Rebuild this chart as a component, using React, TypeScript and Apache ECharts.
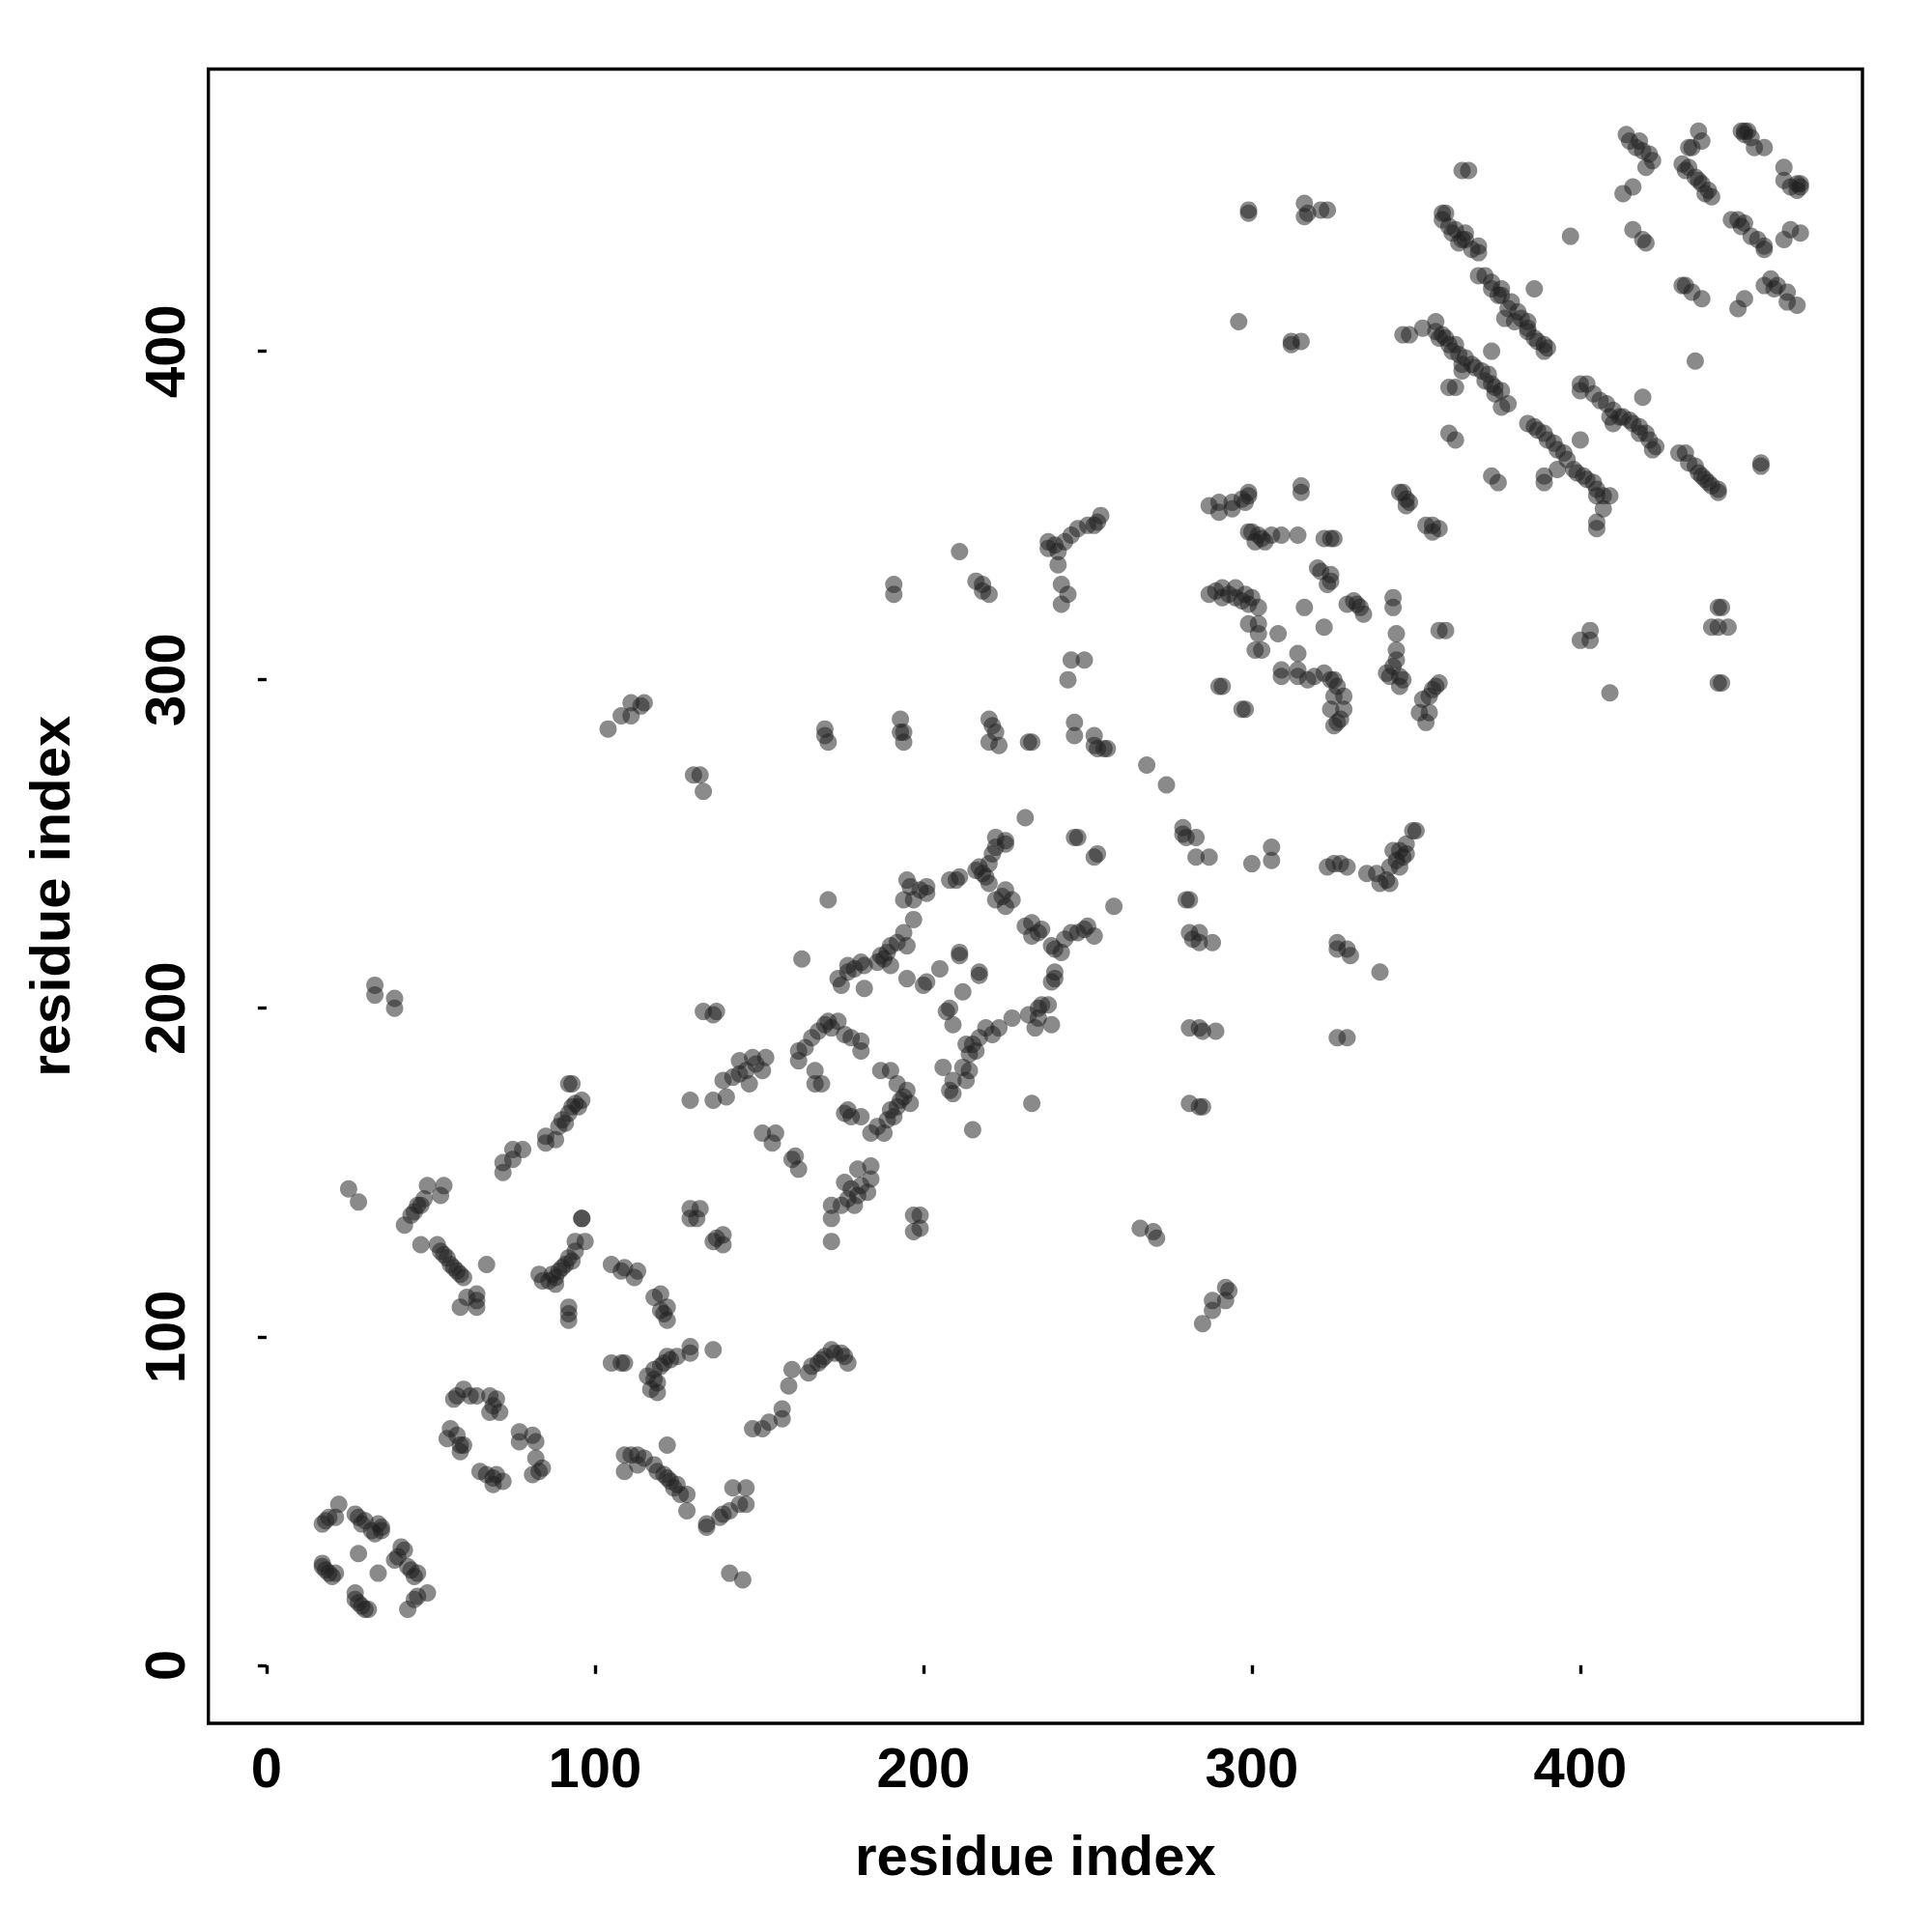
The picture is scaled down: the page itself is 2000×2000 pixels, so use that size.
import React, { useEffect, useRef } from "react";
import * as echarts from "echarts";

const tickValues = [0, 100, 200, 300, 400];
const axisTitle = "residue index";

const contactsA: number[][] = [
  [22,49],[19,45],[17,43],[18,44],[21,45],[27,46],[28,45],[30,44],[29,43],[34,43],[35,42],[35,41],[33,40],[32,41],[28,34],[34,28],[42,35],[41,36],[40,33],[39,32],[43,30],[44,29],[46,28],[45,27],[49,22],[46,21],[45,20],[43,17],[17,31],[17,30],[18,29],[19,28],[20,27],[21,28],[27,22],[27,20],[28,19],[29,18],[30,17],[31,17],
  [60,84],[58,82],[57,81],[62,82],[64,82],[68,82],[70,81],[71,77],[68,77],[69,79],[56,72],[55,69],[58,70],[59,67],[59,65],[60,67],[77,71],[77,68],[81,70],[82,68],[82,63],[84,60],[81,58],[83,59],[65,59],[67,58],[69,57],[72,56],[69,55],[70,58],
  [47,128],[52,128],[53,126],[54,125],[55,124],[56,122],[57,121],[58,120],[59,119],[60,118],[67,122],[64,113],[61,112],[64,109],[59,109],[64,111],[42,134],[45,138],[44,137],[46,140],[48,142],[49,146],[53,143],[54,146],[25,145],[28,141],[47,140],
];

const contactsB: number[][] = [
  [96,136],[97,129],[94,129],[94,126],[93,123],[91,122],[89,120],[88,118],[88,116],[87,119],[90,121],[92,124],[83,119],[84,117],[86,117],[92,109],[92,107],[92,105],
  [105,122],[109,121],[108,120],[113,120],[112,118],[120,113],[118,112],[122,109],[120,108],[122,105],[121,107],
  [136,96],[129,97],[129,95],[125,94],[122,94],[120,91],[118,90],[116,88],[119,86],[119,83],[117,84],[121,92],[123,93],[118,87],[105,92],[109,92],[108,92],
  [122,67],[109,64],[113,64],[111,64],[115,63],[109,59],[113,61],[118,61],[119,59],[121,58],[123,56],[125,55],[128,52],[126,52],[124,54],[122,57],[128,47],
  [134,43],[134,42],[138,45],[141,47],[139,46],[142,54],[146,54],[146,49],[144,49],[141,28],[145,26],[148,72],[153,74],[157,78],[157,75],[151,72],
  [129,139],[132,139],[129,136],[131,136],[136,129],[139,131],[139,128],[137,130],
  [159,85],[160,90],[165,89],[166,91],[168,92],[170,94],[172,96],[173,95],[176,94],[177,92],[169,93],[175,95],
];

const contactsC: number[][] = [
  [72,150],[72,153],[75,154],[75,157],[78,157],[85,159],[85,161],[88,160],[89,164],[90,166],[92,168],[93,170],[94,171],[96,172],[95,170],[91,165],[92,177],[93,177],[96,136],
  [33,207],[33,204],[39,203],[39,200],[130,271],[132,271],[133,266],[104,285],[108,289],[111,289],[111,293],[115,293],[114,292],
  [133,199],[137,199],[136,198],[129,172],[136,172],[140,173],[139,178],[142,179],[144,180],[147,177],[144,184],[148,185],[151,181],[152,185],[146,181],[149,183],
];

const contactsD: number[][] = [
  [171,233],[163,215],[195,239],[196,237],[194,233],[197,233],[201,237],[201,235],[199,236],[197,227],[194,223],[195,219],[192,220],[190,219],[189,217],[188,215],[186,214],[190,213],[187,216],[182,213],[181,214],[177,213],[177,211],[174,209],[175,207],[182,206],[179,212],
  [195,209],[200,207],[201,208],[205,212],[211,217],[211,216],[217,211],[217,210],[212,205],[208,200],[207,199],[209,195],
  [206,182],[214,181],[212,182],[213,178],[209,178],[208,175],[209,174],[214,186],[213,189],[215,189],[217,191],[219,194],[223,194],[221,192],[216,187],[227,197],[232,198],[234,194],[236,201],[235,200],[239,195],[235,197],[238,201],
  [240,211],[240,209],[239,208],[242,217],[243,221],[240,218],[245,223],[250,225],[252,222],[247,223],[239,219],[249,224],[236,224],[233,226],[231,225],[233,222],[235,223],[227,233],[225,236],[222,233],[225,231],[224,234],
  [220,238],[218,241],[216,242],[220,244],[221,247],[222,252],[225,250],[225,251],[219,240],[217,243],[222,249],[208,239],[211,240],[210,239],[247,252],[246,252],[253,247],[252,246],[258,231],[231,258],
  [171,196],[174,196],[176,192],[181,190],[181,187],[168,193],[166,191],[164,188],[162,187],[162,184],[170,195],[172,194],[178,191],[167,181],[169,177],[167,177],
  [187,181],[190,181],[192,177],[195,175],[196,171],[190,169],[189,166],[186,164],[188,162],[184,162],[194,173],[192,170],[191,167],[193,172],[177,169],[181,167],[178,167],[176,168],
  [151,162],[155,162],[154,159],[161,155],[160,154],[162,151],[184,152],[184,148],[180,151],[176,147],[183,144],[179,140],[175,140],[172,140],[172,136],[172,129],[181,146],[178,145],[180,143],[177,142],
  [199,137],[197,137],[199,133],[197,132],[215,163],[233,171],[266,133],[270,132],[271,130],
];

const contactsE: number[][] = [
  [281,233],[280,233],[281,223],[284,223],[284,220],[288,220],[282,221],[281,194],[284,194],[285,193],[289,193],[281,171],[285,170],[284,170],[279,255],[280,252],[283,252],[279,253],[283,246],[287,246],
  [268,274],[274,268],[285,104],[288,108],[288,111],[292,111],[292,115],[293,114],
  [170,285],[171,281],[170,283],[193,288],[194,284],[194,281],[193,284],[220,288],[222,284],[220,281],[223,280],[221,286],[232,281],[233,281],
  [246,287],[246,283],[252,283],[252,280],[255,279],[256,279],[253,279],[244,300],[245,306],[249,306],
  [191,329],[191,326],[211,339],[216,330],[218,329],[218,327],[220,326],[238,342],[238,340],[241,339],[241,335],[242,329],[244,326],[242,323],[243,342],[245,344],[247,346],[250,347],[253,348],[254,350],[252,347],[240,341],
  [287,353],[290,354],[290,351],[294,354],[294,352],[297,355],[299,357],[299,356],[298,354],[315,359],[315,357],
  [299,345],[300,345],[302,344],[301,342],[304,342],[306,344],[309,344],[314,344],[322,343],[325,343],[324,343],[303,343],
  [320,334],[321,333],[324,332],[324,330],[323,329],[316,322],[322,316],[329,323],[331,324],[332,323],[334,320],[333,322],
  [343,325],[343,322],[344,314],[344,309],[344,306],[341,302],[345,301],[345,298],[342,301],[343,304],[346,300],
  [357,315],[359,315],[346,357],[347,355],[347,353],[345,357],[348,354],[353,347],[355,347],[357,346],[355,345],
  [287,326],[291,328],[291,325],[295,328],[295,325],[298,326],[300,325],[302,322],[299,323],[299,317],[302,317],[302,314],[308,314],[301,309],[303,309],[289,327],[293,326],[297,324],
  [309,303],[314,308],[309,301],[314,303],[314,301],[317,300],[322,302],[324,300],[325,300],[326,298],[328,295],[325,295],[328,291],[324,291],[326,287],[327,288],[319,301],[325,286],
  [291,298],[290,298],[298,291],[297,291],[357,299],[355,297],[354,295],[352,294],[354,290],[351,290],[353,287],[356,298],
  [300,244],[306,249],[306,245],[323,243],[325,244],[327,244],[329,243],[335,241],[338,241],[341,239],[342,243],[344,245],[346,246],[347,247],[343,248],[345,248],[347,250],[349,254],[350,254],[342,238],[339,238],[345,243],
  [326,220],[326,218],[329,218],[330,216],[339,211],[326,191],[329,191],
];

const contactsF: number[][] = [
  [366,455],[364,455],[358,442],[359,442],[358,440],[360,438],[362,437],[365,436],[365,434],[363,433],[369,432],[369,430],[367,431],[361,436],[364,434],
  [369,423],[371,423],[373,421],[373,419],[376,419],[376,417],[379,415],[381,412],[377,410],[380,409],[384,409],[384,407],[384,406],[389,402],[390,401],[389,400],[375,417],[378,413],[382,410],[386,404],[387,403],[386,419],[373,400],
  [346,405],[348,405],[352,407],[356,409],[356,406],[358,405],[357,404],[362,402],[360,402],[363,399],[364,396],[367,396],[364,394],[370,394],[372,393],[373,390],[376,388],[374,387],[378,384],[376,383],[359,404],[361,400],[365,398],[368,395],[371,391],[374,389],
  [360,389],[362,389],[360,375],[362,373],[373,362],[375,360],
  [400,390],[402,390],[400,388],[404,387],[406,385],[408,384],[410,382],[409,380],[410,378],[413,380],[416,378],[418,377],[420,375],[423,371],[422,370],[412,380],[415,379],[418,375],[421,373],[419,386],[400,373],
  [384,378],[386,377],[389,375],[392,372],[395,369],[398,364],[401,362],[404,360],[407,356],[409,356],[405,356],[407,352],[405,348],[405,346],[393,364],[389,362],[389,360],[387,376],[390,373],[393,370],[396,367],[399,363],[402,361],[405,358],
  [430,369],[432,369],[435,365],[433,366],[437,362],[439,360],[442,358],[442,357],[436,363],[438,361],[440,359],[455,366],[455,365],[435,397],
  [414,466],[415,464],[418,464],[417,462],[419,461],[422,458],[420,456],[421,460],[413,448],[416,450],[436,467],[437,464],[434,462],[433,462],
  [449,467],[450,467],[451,467],[450,466],[452,465],[453,462],[456,462],[431,457],[433,456],[435,453],[437,451],[439,449],[440,447],[438,448],[436,452],[432,455],
  [462,456],[462,452],[467,451],[467,450],[466,449],[464,450],[466,451],[446,440],[448,440],[450,439],[452,435],[456,432],[456,431],[449,438],[454,434],[462,434],[464,437],[467,436],[416,437],[419,434],[420,433],
  [432,420],[434,418],[437,416],[431,420],[450,416],[448,413],[456,420],[458,422],[460,420],[463,418],[466,414],[463,415],[459,419],
  [397,435],[299,443],[299,442],[316,445],[316,441],[317,442],[321,443],[323,443],[296,409],[312,402],[312,403],[315,403],
  [400,312],[403,312],[403,315],[409,296],[442,322],[443,322],[440,316],[442,316],[445,316],[442,299],[443,299],
];

const contactSeries = [contactsA, contactsB, contactsC, contactsD, contactsE, contactsF];

export default function App() {
  const ref = useRef<HTMLDivElement>(null);
  useEffect(() => {
    const chart = echarts.init(ref.current!, null, { renderer: "svg" });
    const font = { fontFamily: "Liberation Sans", fontWeight: "bold" as const, fontSize: 58, color: "#000" };
    const axis = (nameGap: number, labelMargin: number, extra: object) => ({
      type: "value" as const,
      min: -17.7,
      max: 485.9,
      name: axisTitle,
      nameLocation: "middle" as const,
      nameGap,
      nameTextStyle: font,
      splitLine: { show: false },
      axisLine: { show: false },
      axisTick: { show: true, length: 9, lineStyle: { color: "#000", width: 3.4 }, customValues: tickValues },
      axisLabel: { ...font, margin: labelMargin, customValues: tickValues, formatter: (v: number) => String(v), ...extra },
    });
    chart.setOption({
      animation: false,
      backgroundColor: "#fff",
      grid: { show: true, left: 215.7, top: 71.5, width: 1712.3, height: 1712.5, borderColor: "#000", borderWidth: 3.4, backgroundColor: "transparent" },
      xAxis: axis(107, 16, {}),
      yAxis: axis(135, 16, { rotate: 90 }),
      series: contactSeries.map((data) => ({
        type: "scatter",
        data,
        symbol: "circle",
        symbolSize: 18,
        silent: true,
        itemStyle: { color: "rgba(30,30,30,0.65)", borderWidth: 0 },
      })),
    });
    return () => chart.dispose();
  }, []);
  return <div ref={ref} style={{ position: "absolute", left: 0, top: 0, width: 2000, height: 2000 }} />;
}
